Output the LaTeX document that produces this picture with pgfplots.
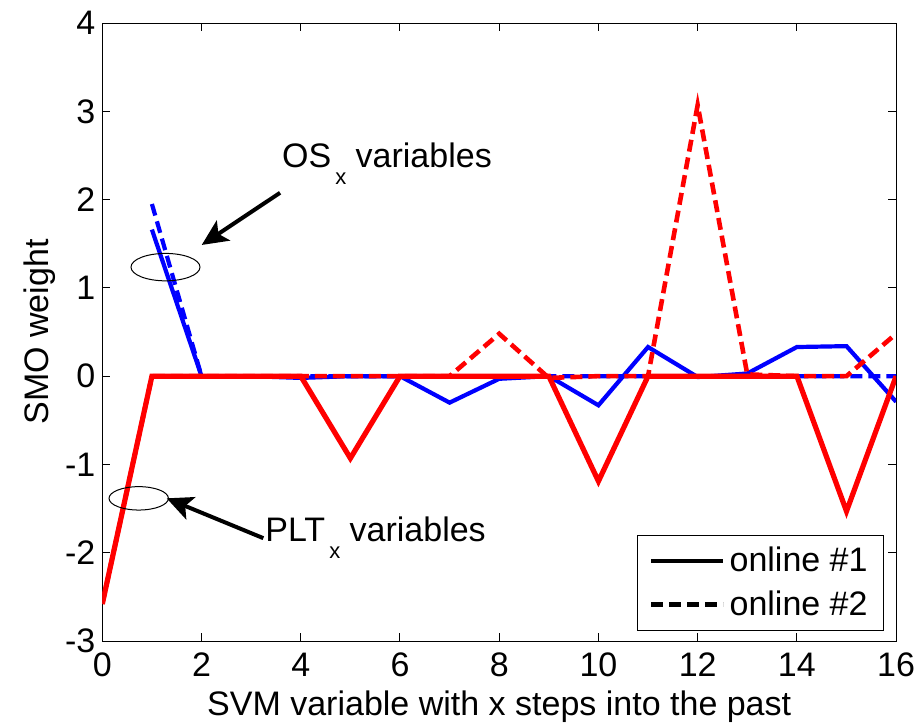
\documentclass[border=0pt]{standalone}
\usepackage{pgfplots}
\pgfplotsset{compat=1.18}
\usepackage{fontspec}
\setmainfont{Liberation Sans}
\usetikzlibrary{arrows.meta}
\newcommand{\fs}{\fontsize{17}{20.4}\selectfont}
\begin{document}
\begin{tikzpicture}
\begin{axis}[
  scale only axis,
  width=396.9pt, height=309pt,
  xmin=0, xmax=16, ymin=-3, ymax=4,
  xtick={0,2,...,16}, ytick={-3,-2,...,4},
  /pgf/number format/assume math mode=true,
  tick label style={font=\fs},
  xticklabel style={yshift=-2.5pt},
  label style={font=\fs},
  axis line style={line width=0.5pt},
  every tick/.style={black, line width=0.5pt},
  major tick length=4pt,
  xlabel={SVM variable with x steps into the past},
  ylabel={SMO weight},
  xlabel style={yshift=0pt},
  ylabel style={yshift=-2pt},
  legend style={font=\fs, at={(rel axis cs:1,0)}, anchor=south east, xshift=-6pt, yshift=5pt,
    draw=black, line width=0.5pt, fill=white, inner xsep=6pt, inner ysep=4pt,
    row sep=4pt, cells={anchor=west}},
  legend image code/.code={\draw[#1] (0pt,0pt) -- (36pt,0pt);},
]
\addlegendimage{black, line width=2.2pt}
\addlegendentry{online \#1}
\addlegendimage{black, line width=2.2pt, dash pattern=on 6pt off 3pt}
\addlegendentry{online \#2}
% blue solid (online #1, OS)
\addplot[blue, line width=2.1pt, forget plot] coordinates {
 (1,1.66) (2,0) (3,0) (4,-0.02) (5,0) (6,0) (7,-0.30) (8,-0.03) (9,0) (10,-0.33)
 (11,0.33) (12,-0.01) (13,0.03) (14,0.33) (15,0.34) (16,-0.29)};
% blue dashed (online #2, OS)
\addplot[blue, line width=2.1pt, dash pattern=on 6pt off 3pt, forget plot] coordinates {
 (1,1.95) (2,0) (3,0) (4,0) (5,0) (6,0) (7,0) (8,0) (9,0) (10,0)
 (11,0) (12,0) (13,0) (14,0) (15,0) (16,0)};
% red solid (online #1, PLT)
\addplot[red, line width=2.6pt, forget plot] coordinates {
 (0,-2.58) (1,0) (2,0) (3,0) (4,0) (5,-0.93) (6,0) (7,0) (8,0) (9,0) (10,-1.19)
 (11,0) (12,0) (13,0) (14,0) (15,-1.53) (16,0)};
% red dashed (online #2, PLT)
\addplot[red, line width=2.3pt, dash pattern=on 6pt off 3pt, forget plot] coordinates {
 (0,-2.58) (1,0) (2,0) (3,0) (4,0) (5,0) (6,0) (7,0) (8,0.48) (9,-0.02) (10,0)
 (11,0) (12,3.07) (13,0.02) (14,0) (15,0) (16,0.48)};
% annotations
\draw[line width=0.5pt] (axis cs:1.274,1.235) ellipse [x radius=17.25pt, y radius=6.85pt];
\draw[line width=0.5pt] (axis cs:0.734,-1.384) ellipse [x radius=14.85pt, y radius=5.85pt];
\draw[line width=2pt, -{Stealth[length=13pt,width=12pt,inset=3pt]}] (axis cs:3.583,2.077) -- (axis cs:2.004,1.486);
\draw[line width=2pt, -{Stealth[length=13pt,width=12pt,inset=3pt]}] (axis cs:3.246,-1.835) -- (axis cs:1.298,-1.384);
\node[anchor=base west, inner sep=0pt, font=\fs] at (axis cs:3.617,2.359)
  {OS\kern2pt\raisebox{-8.5pt}{\fontsize{11}{13}\selectfont x}\ variables};
\node[anchor=base west, inner sep=0pt, font=\fs] at (axis cs:3.28,-1.874)
  {PLT\kern2pt\raisebox{-8.5pt}{\fontsize{11}{13}\selectfont x}\ variables};
\end{axis}
\pgfresetboundingbox
\path[use as bounding box] ([xshift=-51.15pt,yshift=-42pt]current axis.south west) rectangle ([xshift=410.85pt,yshift=320.5pt]current axis.south west);
\end{tikzpicture}
\end{document}
